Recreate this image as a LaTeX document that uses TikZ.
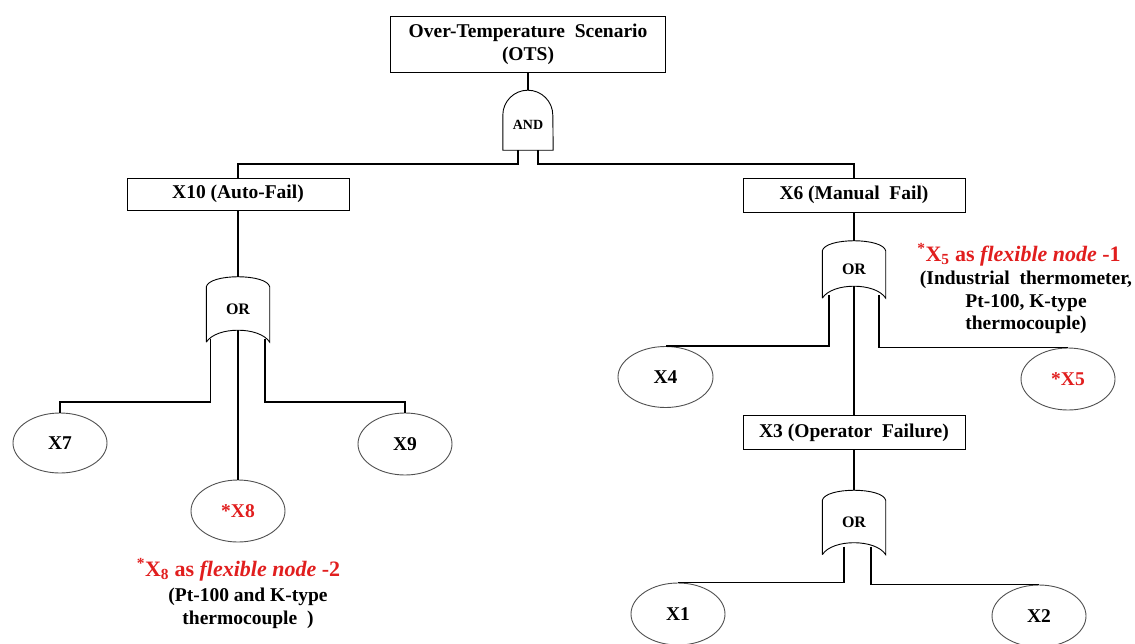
\documentclass[tikz,border=0pt]{standalone}
\usepackage{fontspec}
\setmainfont{Liberation Serif}
\usetikzlibrary{shapes.geometric,calc}
\definecolor{fred}{RGB}{225,30,30}
\definecolor{egray}{RGB}{80,80,80}
\tikzset{
 conn/.style={line width=1.6pt, black},
 evbox/.style={draw, line width=0.9pt, inner sep=0pt, font=\fontsize{19.5}{23}\selectfont\bfseries},
 basic/.style={ellipse, draw=egray, line width=0.9pt, minimum width=94pt, minimum height=62pt, inner sep=0pt, font=\fontsize{19.5}{22}\selectfont\bfseries},
 gatelbl/.style={inner sep=0pt, minimum width=63pt, font=\fontsize{16}{18}\selectfont\bfseries},
 gateline/.style={line width=0.9pt},
 redcap/.style={inner sep=0pt, text=fred, font=\fontsize{22}{25}\selectfont\bfseries},
 blackcap/.style={inner sep=0pt, align=center, font=\fontsize{19.5}{23}\selectfont\bfseries},
}
\newcommand\orgatepath[1]{%
 \draw[gateline] (#1.south west) -- ($(#1.north west)+(0,10)$) .. controls ($(#1.north west)+(3,-3.4)$) and ($(#1.north east)+(-3,-3.4)$) .. ($(#1.north east)+(0,10)$) -- (#1.south east) .. controls ($(#1.south east)+(-10,-16)$) and ($(#1.south west)+(10,-16)$) .. (#1.south west);}
\begin{document}
\begin{tikzpicture}[x=1pt,y=-1pt]
\useasboundingbox (0,0) rectangle (1135,643);
% top event
\node[evbox, minimum width=275pt, minimum height=56pt, align=center] (ots) at (528,44.7) {Over-Temperature\ \ Scenario\\(OTS)};
% AND gate
\node[gatelbl, minimum width=50pt, minimum height=50pt, font=\fontsize{14}{16}\selectfont\bfseries] (andg) at (528,125) {AND};
\draw[gateline] (andg.south west) -- ($(andg.south west)+(0,-35)$) arc[start angle=180, end angle=0, radius=25pt] -- (andg.south east) -- cycle;
\coordinate (andtop) at ($(andg.south)+(0,-60)$);
% intermediate events
\node[evbox, minimum width=222pt, minimum height=32pt] (x10) at (238,194) {X10 (Auto-Fail)};
\node[evbox, minimum width=222pt, minimum height=34pt] (x6) at (854,195) {X6 (Manual\ \ Fail)};
\node[evbox, minimum width=222pt, minimum height=34pt] (x3) at (854,432.5) {X3 (Operator\ \ Failure)};
% OR gates
\node[gatelbl, minimum height=65pt] (g1) at (238,309.5) {OR};
\orgatepath{g1}
\node[gatelbl, minimum height=57pt] (g2) at (854,269.5) {OR};
\orgatepath{g2}
\node[gatelbl, minimum height=64pt] (g3) at (854,522.5) {OR};
\orgatepath{g3}
% basic events
\node[basic, minimum height=60pt] (x7) at (60,443) {X7};
\node[basic] (x9) at (405,444) {X9};
\node[basic, text=fred] (x8) at (238,511) {*X8};
\node[basic, minimum width=95pt, minimum height=61pt] (x4) at (665.5,377) {X4};
\node[basic, text=fred] (x5) at (1068,379) {*X5};
\node[basic] (x1) at (678,614) {X1};
\node[basic] (x2) at (1039,616) {X2};
% connectors
\draw[conn] (ots.south) -- (andtop);
\draw[conn] ($(andg.south)+(-10,0)$) -- ++(0,14) -| (x10.north);
\draw[conn] ($(andg.south)+(10,0)$) -- ++(0,14) -| (x6.north);
\draw[conn] (x10.south) -- (g1.north);
\draw[conn] ($(g1.south west)+(4,-3)$) -- ++(0,63) -| (x7.north);
\draw[conn] ($(g1.south east)+(-5,-3)$) -- ++(0,63) -| (x9.north);
\draw[conn] ($(g1.south)+(0,-12)$) -- (x8.north);
\draw[conn] (x6.south) -- (g2.north);
\draw[conn] ($(g2.south)+(-25,-3)$) |- (x4.north);
\draw[conn] ($(g2.south)+(25,-3)$) |- (x5.north);
\draw[conn] ($(g2.south)+(0,-12)$) -- (x3.north);
\draw[conn] (x3.south) -- (g3.north);
\draw[conn] ($(g3.south)+(-10,-8)$) |- (x1.north);
\draw[conn] ($(g3.south)+(17,-8)$) |- (x2.north);
% captions
\node[redcap] (c8) at (238.5,570) {\textsuperscript{*}X\textsubscript{8} as \textit{flexible node} -2};
\node[blackcap] (d8) at (248,608.5) {(Pt-100 and K-type\\thermocouple\ \ )};
\node[redcap] (c5) at (1019,255) {\textsuperscript{*}X\textsubscript{5} as \textit{flexible node} -1};
\node[blackcap, font=\fontsize{19.5}{22.5}\selectfont\bfseries] (d5) at (1026,302.5) {(Industrial\ \ thermometer,\\Pt-100, K-type\\thermocouple)};
\end{tikzpicture}
\end{document}
